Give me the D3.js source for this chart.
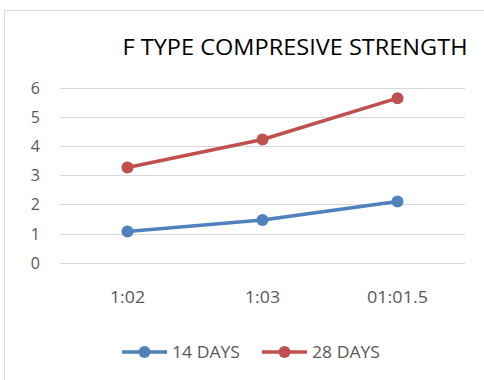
<!DOCTYPE html>
<html>
<head>
<meta charset="utf-8">
<script src="https://cdn.jsdelivr.net/npm/d3@7"></script>
<style>
  body { margin: 0; background: #fff; }
  text { font-family: "Open Sans", "Noto Sans", sans-serif; }
</style>
</head>
<body>
<svg id="chart" width="484" height="380"></svg>
<script>
// ─── Data ─────────────────────────────────────────────────────────────────────
const categories = ["1:02", "1:03", "01:01.5"];
const days14 = [1.07, 1.47, 2.1];
const days28 = [3.27, 4.23, 5.65];
const yTicks = [0, 1, 2, 3, 4, 5, 6];
const seriesNames = ["14 DAYS", "28 DAYS"];
const seriesColors = ["#4f81bd", "#c0504d"];

const svg = d3.select("#chart");

// chart frame (only top and left edge visible in the crop)
svg.append("rect")
    .attr("x", 4.5).attr("y", 10.5)
    .attr("width", 500).attr("height", 400)
    .attr("fill", "none")
    .attr("stroke", "#d9d9d9");

const x = d3.scaleBand().domain(categories).range([60, 465]);
const y = d3.scaleLinear().domain([0, 6]).range([262.7, 88]);

// gridlines
svg.append("g").selectAll("line")
    .data(yTicks)
    .join("line")
    .attr("x1", 60).attr("x2", 465)
    .attr("y1", d => Math.round(y(d)) + 0.5)
    .attr("y2", d => Math.round(y(d)) + 0.5)
    .attr("stroke", "#d9d9d9")
    .attr("stroke-width", 1);

// y labels
svg.append("g").selectAll("text")
    .data(yTicks)
    .join("text")
    .attr("x", 40)
    .attr("y", d => y(d) + 6)
    .attr("text-anchor", "end")
    .attr("font-size", 16)
    .attr("fill", "#595959")
    .text(d => d);

// x labels
svg.append("g").selectAll("text")
    .data(categories)
    .join("text")
    .attr("x", d => x(d) + x.bandwidth() / 2)
    .attr("y", 303)
    .attr("text-anchor", "middle")
    .attr("font-size", 16)
    .attr("fill", "#595959")
    .attr("textLength", d => d.length > 4 ? 61 : 35)
    .attr("lengthAdjust", "spacingAndGlyphs")
    .text(d => d);

// title
svg.append("text")
    .attr("x", 295)
    .attr("y", 55)
    .attr("text-anchor", "middle")
    .attr("font-size", 21)
    .attr("fill", "#000")
    .attr("textLength", 345)
    .attr("lengthAdjust", "spacingAndGlyphs")
    .text("F TYPE COMPRESIVE STRENGTH");

// lines + markers
const line = d3.line()
    .x((d, i) => x(categories[i]) + x.bandwidth() / 2)
    .y(d => y(d));

[days14, days28].forEach((vals, k) => {
    const g = svg.append("g");
    g.append("path")
        .attr("d", line(vals))
        .attr("fill", "none")
        .attr("stroke", seriesColors[k])
        .attr("stroke-width", 3.5)
        .attr("stroke-linejoin", "round")
        .attr("stroke-linecap", "round");
    g.selectAll("circle")
        .data(vals)
        .join("circle")
        .attr("cx", (d, i) => x(categories[i]) + x.bandwidth() / 2)
        .attr("cy", d => y(d))
        .attr("r", 6)
        .attr("fill", seriesColors[k]);
});

// legend
const legendX = [122, 262];
seriesNames.forEach((name, k) => {
    const g = svg.append("g").attr("transform", `translate(${legendX[k]},352)`);
    g.append("line")
        .attr("x1", 0).attr("x2", 45)
        .attr("stroke", seriesColors[k])
        .attr("stroke-width", 3.5);
    g.append("circle")
        .attr("cx", 22.5).attr("r", 6)
        .attr("fill", seriesColors[k]);
    g.append("text")
        .attr("x", 50).attr("y", 6)
        .attr("font-size", 16)
        .attr("fill", "#595959")
        .attr("textLength", 68)
        .attr("lengthAdjust", "spacingAndGlyphs")
        .text(name);
});
</script>
</body>
</html>
